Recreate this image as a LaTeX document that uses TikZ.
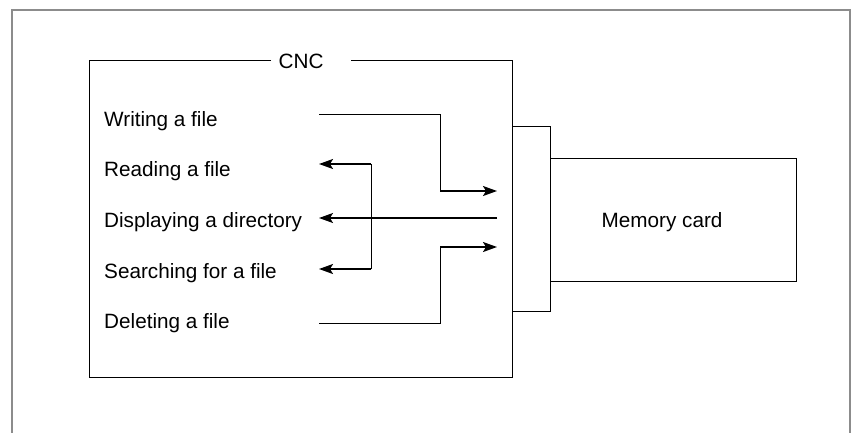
\documentclass[tikz,border=0pt]{standalone}
\usepackage{fontspec}
\setmainfont{Liberation Sans}
\usetikzlibrary{arrows.meta}
\begin{document}
\begin{tikzpicture}[x=1pt,y=-1pt,
  lbl/.style={anchor=base west,inner sep=0pt,font=\fontsize{20.7}{24}\selectfont},
  thinline/.style={line width=1pt,black},
  arrline/.style={line width=1.6pt,black,-{Stealth[length=14pt,width=10pt,inset=3pt]}},
  boxline/.style={line width=1pt,black},
  frameline/.style={line width=2pt,draw=black!45}]
\useasboundingbox (0,0) rectangle (851,432);
% outer frame
\draw[frameline] (12,433) -- (12,10) -- (849.5,10) -- (849.5,433);
% CNC box with gap for label
\coordinate (gapL) at (271,60);
\coordinate (gapR) at (351,60);
\draw[boxline] (gapL) -- (89,60) -- (89,377) -- (512,377) -- (512,60) -- (gapR);
\node[lbl] (cnc) at (278.5,68) {CNC};
% slot and memory card
\node[draw,boxline,minimum width=38pt,minimum height=185pt,inner sep=0pt] (slot) at (531,218.5) {};
\node[draw,boxline,minimum width=246pt,minimum height=123pt,inner sep=0pt] (card) at (673,219.5) {};
\node[lbl] (cardlabel) at (601.5,227) {Memory card};
% function labels
\node[lbl] (write) at (104,126) {Writing a file};
\node[lbl] (read) at (104,176.5) {Reading a file};
\node[lbl] (disp) at (104,227) {Displaying a directory};
\node[lbl] (search) at (104,278) {Searching for a file};
\node[lbl] (delete) at (104,328.5) {Deleting a file};
% connector end points
\coordinate (wS) at (319,114);
\coordinate (wC1) at (440,114);
\coordinate (wC2) at (440,191);
\coordinate (wE) at (497,191);
\coordinate (rE) at (319,164);
\coordinate (rC) at (371,164);
\coordinate (sC) at (371,269);
\coordinate (sE) at (319,269);
\coordinate (dS) at (497,218);
\coordinate (dE) at (319,218);
\coordinate (xS) at (319,323);
\coordinate (xC1) at (440,323);
\coordinate (xC2) at (440,247);
\coordinate (xE) at (497,247);
% writing
\draw[thinline] (wS) -- (wC1) -- (wC2);
\draw[arrline] (wC2) -- (wE);
% reading / searching
\draw[thinline] (rC) -- (sC);
\draw[arrline] (rC) -- (rE);
\draw[arrline] (sC) -- (sE);
% displaying
\draw[arrline,line width=1.2pt] (dS) -- (dE);
% deleting
\draw[thinline] (xS) -- (xC1) -- (xC2);
\draw[arrline] (xC2) -- (xE);
\end{tikzpicture}
\end{document}
